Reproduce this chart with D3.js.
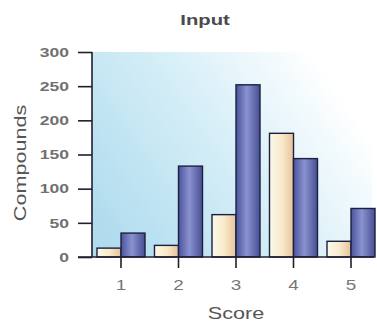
<!DOCTYPE html>
<html>
<head>
<meta charset="UTF-8">
<script src="https://d3js.org/d3.v7.min.js"></script>
<style>
  body { margin: 0; background: #fff; }
  svg { display: block; font-family: "Liberation Sans", Arial, sans-serif; }
</style>
</head>
<body>
<svg width="377" height="321"></svg>
<script>
const scores = ["1", "2", "3", "4", "5"];
const series = ["a", "b"];
const seriesA = [13, 17, 62, 181, 23];
const seriesB = [35, 133, 252, 144, 71];
const yTicks = [0, 50, 100, 150, 200, 250, 300];

const margin = { top: 52, right: 5, bottom: 64, left: 92 };
const width = 377 - margin.left - margin.right,
      height = 321 - margin.top - margin.bottom;
const stretch = 1.35; // the glyphs in the picture are drawn wide

const svg = d3.select("svg");
const defs = svg.append("defs");

let bg = defs.append("linearGradient").attr("id", "bg")
    .attr("x1", "0").attr("y1", "0.8").attr("x2", "1").attr("y2", "0.3");
bg.append("stop").attr("offset", "0").attr("stop-color", "#b0dcee");
bg.append("stop").attr("offset", "0.5").attr("stop-color", "#d5eef7");
bg.append("stop").attr("offset", "0.95").attr("stop-color", "#ffffff");

let gA = defs.append("linearGradient").attr("id", "gA");
gA.append("stop").attr("offset", "0").attr("stop-color", "#fbf8e8");
gA.append("stop").attr("offset", "0.5").attr("stop-color", "#f8ebcc");
gA.append("stop").attr("offset", "1").attr("stop-color", "#e8c29c");

let gB = defs.append("linearGradient").attr("id", "gB");
gB.append("stop").attr("offset", "0").attr("stop-color", "#4b549c");
gB.append("stop").attr("offset", "0.45").attr("stop-color", "#8a92d0");
gB.append("stop").attr("offset", "1").attr("stop-color", "#474f94");

const g = svg.append("g").attr("transform", `translate(${margin.left},${margin.top})`);

const x0 = d3.scaleBand().domain(scores).range([0.25, 287.75])
    .paddingInner(0.165).paddingOuter(0.0825);
const xs = d3.scaleBand().domain(series).range([0, x0.bandwidth()]);
const y = d3.scaleLinear().domain([0, 300]).range([height, 0]);

g.append("rect").attr("x", 0).attr("y", 0).attr("width", width).attr("height", height)
    .attr("fill", "url(#bg)");

const data = scores.map((s, i) => ({ s, vals: [seriesA[i], seriesB[i]] }));

g.selectAll(".grp").data(data).enter().append("g")
    .attr("transform", d => `translate(${x0(d.s)},0)`)
    .selectAll("rect").data(d => d.vals.map((v, j) => ({ k: series[j], v })))
    .enter().append("rect")
    .attr("x", d => xs(d.k))
    .attr("y", d => y(d.v))
    .attr("width", xs.bandwidth())
    .attr("height", d => height - y(d.v))
    .attr("fill", d => d.k === "a" ? "url(#gA)" : "url(#gB)")
    .attr("stroke", "#1b2040").attr("stroke-width", 1.4);

const yAxis = g.append("g")
    .call(d3.axisLeft(y).tickValues(yTicks).tickSize(14).tickPadding(9));
yAxis.select(".domain").attr("d", `M0,0V${height}`);
yAxis.selectAll("line, .domain").attr("stroke", "#1e2030").attr("stroke-width", 1.6);
yAxis.selectAll("text")
    .attr("x", -23 / stretch)
    .attr("transform", `scale(${stretch},1)`)
    .attr("fill", "#707070").attr("font-size", 13).attr("font-weight", "bold");

const xAxis = g.append("g").attr("transform", `translate(0,${height})`)
    .call(d3.axisBottom(x0).tickSize(11));
xAxis.select(".domain").attr("d", `M-14,0H${width + 2}`);
xAxis.selectAll("line, .domain").attr("stroke", "#1e2030").attr("stroke-width", 1.6);
xAxis.selectAll("text")
    .attr("y", 33).attr("dy", 0)
    .attr("transform", `scale(${stretch},1)`)
    .attr("fill", "#777").attr("font-size", 14);

svg.append("text").attr("transform", `translate(205,25) scale(${stretch},1)`)
    .attr("text-anchor", "middle")
    .attr("font-size", 15).attr("font-weight", "bold").attr("fill", "#4a4a4a").text("Input");

svg.append("text")
    .attr("transform", `translate(${margin.left + x0("3") + x0.bandwidth() / 2},319) scale(1.27,1)`)
    .attr("text-anchor", "middle").attr("font-size", 17).attr("fill", "#555").text("Score");

svg.append("text").attr("transform", "translate(26,163) rotate(-90) scale(1.27,1)")
    .attr("text-anchor", "middle").attr("font-size", 17).attr("fill", "#555").text("Compounds");
</script>
</body>
</html>
